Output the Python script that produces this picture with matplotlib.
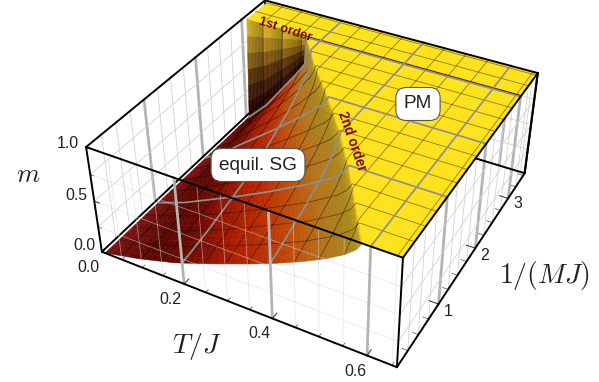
import numpy as np
import matplotlib
matplotlib.use("Agg")
import matplotlib.pyplot as plt
from matplotlib.colors import LinearSegmentedColormap
from mpl_toolkits.mplot3d import Axes3D  # noqa

plt.rcParams['font.family'] = ['Liberation Sans', 'DejaVu Sans']
plt.rcParams['mathtext.fontset'] = 'cm'

# ---------- data ----------
T_MAX = 0.66
Y_MAX = 3.55
Y_JUMP = 3.05
T_START = 0.008
y_rows = [0.0, 0.5, 1.0, 1.5, 2.0, 2.5, 3.0, 3.05]
T_boundary = [0.585, 0.525, 0.463, 0.395, 0.32, 0.24, 0.165, 0.16]
s_cols = [0.0, 0.15, 0.3, 0.45, 0.6, 0.7, 0.8, 0.88, 0.94, 0.98, 1.0]
m_table = [
    [0.00, 0.08, 0.18, 0.31, 0.45, 0.55, 0.66, 0.76, 0.85, 0.93, 1.0],
    [0.00, 0.09, 0.20, 0.33, 0.48, 0.58, 0.68, 0.78, 0.86, 0.93, 1.0],
    [0.00, 0.10, 0.23, 0.36, 0.50, 0.60, 0.70, 0.79, 0.86, 0.94, 1.0],
    [0.00, 0.11, 0.25, 0.38, 0.52, 0.62, 0.72, 0.81, 0.88, 0.95, 1.0],
    [0.00, 0.11, 0.26, 0.40, 0.54, 0.64, 0.74, 0.83, 0.89, 0.95, 1.0],
    [0.00, 0.11, 0.25, 0.38, 0.50, 0.60, 0.70, 0.80, 0.87, 0.94, 1.0],
    [0.00, 0.09, 0.18, 0.30, 0.42, 0.50, 0.58, 0.65, 0.70, 0.74, 1.0],
    [1.00, 1.00, 1.00, 1.00, 1.00, 1.00, 1.00, 1.00, 1.00, 1.00, 1.0],
]
T_ticks = [0.0, 0.2, 0.4, 0.6]
y_ticks = [1, 2, 3]
m_ticks = [0.0, 0.5, 1.0]
T_labels = ['0.0', '0.2', '0.4', '0.6']
y_labels = ['1', '2', '3']
m_labels = ['0.0', '0.5', '1.0']
T_minor = [0.05, 0.1, 0.15, 0.25, 0.3, 0.35, 0.45, 0.5, 0.55, 0.65]
y_minor = [0.25, 0.5, 0.75, 1.25, 1.5, 1.75, 2.25, 2.5, 2.75, 3.25, 3.5]
m_minor = [0.25, 0.75]

# camera calibration: box positions (T, y, m) and where they sit in the picture
calib_box = [(0, 0, 0), (0, 0, 1), (T_MAX, 0, 0), (T_MAX, 0, 1), (T_MAX, Y_MAX, 0),
             (T_MAX, Y_MAX, 1), (0, Y_MAX, 1), (.2, 0, 0), (.4, 0, 0), (.6, 0, 0),
             (T_MAX, 1, 0), (T_MAX, 2, 0), (T_MAX, 3, 0), (.2, 0, 1), (.4, 0, 1), (.6, 0, 1),
             (T_MAX, 1, 1), (T_MAX, 2, 1), (T_MAX, 3, 1)]
calib_px = [(102, 252), (85, 145), (397, 368), (405, 257), (525, 173),
            (539, 72), (265, 1), (185, 285), (272, 318), (367, 355),
            (438, 305), (475, 248), (508, 197), (175, 180), (268, 208), (370, 245),
            (447, 200), (485, 145), (520, 97)]

W, H = 599, 382
cmap = LinearSegmentedColormap.from_list('m', [
    (0.00, '#7a1210'), (0.10, '#5a0700'), (0.20, '#6c0900'), (0.35, '#a81a00'),
    (0.50, '#bc3002'), (0.62, '#c0500a'), (0.75, '#b4741a'), (0.90, '#a8851a'),
    (0.97, '#c09c18'), (1.00, '#ffe21e')])
wall_cmap = LinearSegmentedColormap.from_list('w', [
    (0.00, '#2a0500'), (0.30, '#5a2c08'), (0.60, '#a47c1c'), (0.85, '#e0b820'), (1.00, '#ffe21e')])

# ---------- projective camera ----------
def fit_camera():
    rows = []
    for (t, y, m), (u, v) in zip(calib_box, calib_px):
        X = [t / T_MAX, y / Y_MAX, m, 1.0]
        v = H - v
        u, v = u / 100.0, v / 100.0
        rows.append(X + [0, 0, 0, 0] + [-u * c for c in X])
        rows.append([0, 0, 0, 0] + X + [-v * c for c in X])
    P = np.linalg.svd(np.array(rows))[2][-1].reshape(3, 4)
    P[:2] *= 100.0
    P = P @ np.diag([1 / T_MAX, 1 / Y_MAX, 1, 1])
    P = P / P[2, 3]
    if (P[2] @ np.array([T_MAX / 2, Y_MAX / 2, .5, 1])) < 0:
        P = -P
    return P

P = fit_camera()

fig = plt.figure(figsize=(W / 100, H / 100), dpi=100)
ax = fig.add_axes([0, 0, 1, 1], projection='3d', computed_zorder=False)
ax.set_axis_off()
ax.patch.set_visible(False)
ax.apply_aspect = lambda position=None: None

def get_proj():
    A = ax.transData.inverted().get_matrix()
    Q = A @ P
    return np.array([Q[0], Q[1], [0, 0, 0, -1.0], Q[2]])

ax.get_proj = get_proj

# ---------- surface helpers ----------
y_arr = np.array(y_rows)
tc_arr = np.array(T_boundary)
s_arr = np.array(s_cols)
tab = np.array(m_table)

def tc_of(y):
    return np.interp(y, y_arr, tc_arr)

def m_at(t, y):
    """value from the table at (T, y)"""
    if y >= Y_JUMP:
        return 1.0
    tc = tc_of(y)
    if t >= tc:
        return 1.0
    col = np.array([np.interp(y, y_arr, tab[:, j]) for j in range(tab.shape[1])])
    return float(np.interp(max(t - T_START, 0) / (tc - T_START), s_arr, col))

def fine(a, k):
    n = len(a)
    return np.interp(np.linspace(0, n - 1, (n - 1) * k + 1), np.arange(n), a)

K = 6
yf = fine(y_arr, K)
sf = fine(s_arr, K)
cols = np.array([fine(tab[:, j], K) for j in range(tab.shape[1])]).T   # rows yf, cols s_cols
mf = np.array([np.interp(sf, s_arr, row) for row in cols])
tcf = np.interp(yf, y_arr, tc_arr)
Tf = T_START + np.outer(tcf - T_START, sf)
Yf = np.tile(yf[:, None], (1, len(sf)))

split = np.searchsorted(sf, 0.93)

def surf(X, Y, Z, zorder):
    C = cmap(np.clip(Z, 0, 1))
    on_wall = (Y >= 3.0) & (Y < Y_JUMP)
    if on_wall.any():
        frac = (Y - 3.0) / (Y_JUMP - 3.0)
        rib = 1 - 0.3 * (np.mod(X, 0.05) / 0.05)
        W_C = wall_cmap(np.clip(frac, 0, 1))
        W_C[..., :3] *= rib[..., None]
        C[on_wall] = W_C[on_wall]
    ax.plot_surface(X, Y, Z, facecolors=C, shade=False, rstride=1, cstride=1,
                    linewidth=0.35, antialiased=True, zorder=zorder)

# back parts
lw_thin, lw_thick = 0.6, 2.0
c_thin, c_thick = '#d2d2d2', '#b4b4b4'

def wall_lines(fn, minor, major, zorder, lw=None, c=None):
    for v in minor:
        fn(v, c_thin if c is None else c, lw_thin if lw is None else lw, zorder)
    for v in major:
        fn(v, c_thick, lw_thick, zorder)

def seg(a, b, color, lw, zorder, **kw):
    ax.plot([a[0], b[0]], [a[1], b[1]], [a[2], b[2]], color=color, lw=lw, zorder=zorder,
            solid_capstyle='round', **kw)

# left wall T=0
wall_lines(lambda v, c, l, z: seg((0, v, 0), (0, v, 1), c, l, z), y_minor, y_ticks, 1)
for v in m_minor + [0.5]:
    seg((0, 0, v), (0, Y_MAX, v), c_thin, lw_thin, 1)
# back wall
wall_lines(lambda v, c, l, z: seg((v, Y_MAX, 0), (v, Y_MAX, 1), c, l, z), T_minor, T_ticks[1:], 1)
for v in m_minor + [0.5]:
    seg((0, Y_MAX, v), (T_MAX, Y_MAX, v), c_thin, lw_thin, 1)
# right wall T=Tmax
wall_lines(lambda v, c, l, z: seg((T_MAX, v, 0), (T_MAX, v, 1), c, l, z), y_minor, y_ticks, 1)
for v in m_minor + [0.5]:
    seg((T_MAX, 0, v), (T_MAX, Y_MAX, v), c_thin, lw_thin, 1)
# front wall thin grid, faint over the surface
for v in m_minor + [0.5]:
    seg((0, 0, v), (T_MAX, 0, v), '#d8d8d8', lw_thin, 6, alpha=0.55)
for v in T_minor:
    seg((v, 0, 0), (v, 0, 1), '#d8d8d8', lw_thin, 6, alpha=0.55)

# bottom edges hidden by the surface
edge_lw = 1.4
for a, b in [((0, 0, 0), (0, Y_MAX, 0)), ((0, Y_MAX, 0), (T_MAX, Y_MAX, 0)),
             ((0, Y_MAX, 0), (0, Y_MAX, 1)), ((T_MAX, Y_MAX, 0), (T_MAX, Y_MAX, 1))]:
    seg(a, b, 'black', edge_lw, 1.5)

# low part of the surface
surf(Tf[:, :split + 1], Yf[:, :split + 1], mf[:, :split + 1], 2)

# mesh lines
ys_line = np.concatenate([np.linspace(0, 3.0, 121), np.linspace(3.0, Y_JUMP, 12)[1:],
                          np.linspace(Y_JUMP, Y_MAX, 21)[1:]])
ts_line = np.linspace(T_START, T_MAX, 260)

def is_low(t, y):
    return y < Y_JUMP and (t - T_START) / (tc_of(y) - T_START) < sf[split]

def mesh_line(pts, color, lw, part, alpha):
    xs, ys = pts
    ms = np.array([m_at(a, b) for a, b in zip(xs, ys)])
    low = np.array([is_low(a, b) for a, b in zip(xs, ys)])
    if part == 'low':
        ax.plot(xs, ys, np.where(low, ms, np.nan), color=color, lw=lw, zorder=3, alpha=alpha)
    else:
        hi = ~low
        hi[:-1] |= hi[1:]
        hi[1:] |= (~low)[:-1]
        ax.plot(xs, ys, np.where(hi, ms, np.nan), color=color, lw=lw, zorder=5, alpha=alpha)

thin_mesh = '#000000'
thick_mesh = '#8e8e8e'

def all_mesh(part):
    for t in T_minor:
        mesh_line((np.full_like(ys_line, t), ys_line), thin_mesh, 0.6, part, 0.45)
    for y in y_minor:
        mesh_line((ts_line, np.full_like(ts_line, y)), thin_mesh, 0.6, part, 0.45)
    for t in T_ticks[1:]:
        mesh_line((np.full_like(ys_line, t), ys_line), thick_mesh, 1.25, part, 1)
    for y in y_ticks:
        mesh_line((ts_line, np.full_like(ts_line, y)), thick_mesh, 1.25, part, 1)

all_mesh('low')

# high part: cliff and plateau
surf(Tf[:, split:], Yf[:, split:], mf[:, split:], 4)
u = np.linspace(0, 1, 3)
X2 = np.outer(tcf, 1 - u) + T_MAX * u
Y2 = np.tile(yf[:, None], (1, len(u)))
surf(X2, Y2, np.ones_like(X2), 4)
X3, Y3 = np.meshgrid([T_START, T_MAX], [Y_JUMP, Y_MAX])
surf(X3, Y3, np.ones_like(X3), 4)

all_mesh('high')

# front wall thick lines over the surface
for t in T_ticks[1:]:
    seg((t, 0, 0), (t, 0, 1), c_thick, lw_thick, 6)

# ticks
for t in T_ticks[1:]:
    seg((t, 0, 0), (t, 0.09, 0), '#444444', 0.8, 7)
for t in T_minor:
    seg((t, 0, 0), (t, 0.05, 0), '#666666', 0.6, 7)
for y in y_ticks:
    seg((T_MAX, y, 0), (T_MAX - 0.02, y, 0), '#444444', 0.8, 7)
for y in y_minor:
    seg((T_MAX, y, 0), (T_MAX - 0.012, y, 0), '#666666', 0.6, 7)
for m in m_ticks:
    seg((0, 0, m), (0.012, 0, m), '#444444', 0.8, 7)
for m in m_minor:
    seg((0, 0, m), (0.008, 0, m), '#666666', 0.6, 7)

# box edges in front
for a, b in [((0, 0, 1), (T_MAX, 0, 1)), ((T_MAX, 0, 1), (T_MAX, Y_MAX, 1)),
             ((T_MAX, Y_MAX, 1), (0, Y_MAX, 1)), ((0, Y_MAX, 1), (0, 0, 1)),
             ((0, 0, 0), (0, 0, 1)), ((T_MAX, 0, 0), (T_MAX, 0, 1)),
             ((0, 0, 0), (T_MAX, 0, 0)), ((T_MAX, 0, 0), (T_MAX, Y_MAX, 0))]:
    seg(a, b, 'black', edge_lw, 7)
seg((T_MAX, Y_MAX, 0), (T_MAX, Y_MAX, 1), 'black', edge_lw, 7)

# ---------- text ----------
def px(x, y, s, **kw):
    fig.text(x / W, 1 - y / H, s, ha='center', va='center', zorder=20, **kw)

tick_fs = 11.4
for s, p in zip(T_labels, [(88, 267), (170, 299), (259, 334), (355, 371)]):
    px(*p, s, fontsize=tick_fs, color='#222222')
for s, p in zip(y_labels, [(448, 312), (485, 255), (518, 204)]):
    px(*p, s, fontsize=tick_fs, color='#222222')
for s, p in zip(m_labels, [(84, 245), (76, 195), (68, 143)]):
    px(*p, s, fontsize=tick_fs, color='#222222')
px(28, 175, r'$m$', fontsize=19, color='#222222')
px(197, 347, r'$T/J$', fontsize=20, color='#222222')
px(545, 276, r'$1/(MJ)$', fontsize=20, color='#222222')
box = dict(boxstyle='round,pad=0.42,rounding_size=0.55', fc='white', ec='#555555', lw=0.8)
px(258, 165, 'equil. SG', fontsize=13.7, color='#222222', bbox=box)
px(418, 104, 'PM', fontsize=13.7, color='#222222', bbox=box)
px(285, 30, '1st order', fontsize=9.3, color='#7a0a00', fontweight='bold', rotation=-18)
px(352, 141, '2nd order', fontsize=9.8, color='#7a0a00', fontweight='bold', rotation=-71)

fig.savefig('out.png', dpi=100)
